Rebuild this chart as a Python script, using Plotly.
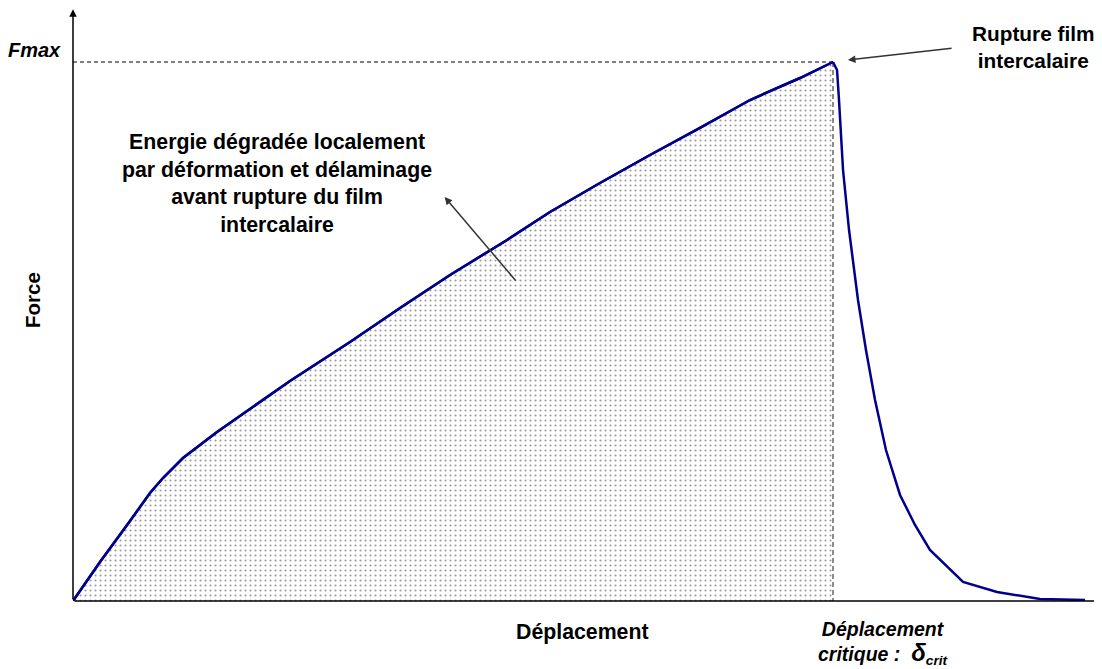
import plotly.graph_objects as go

# courbe force / deplacement (unites normalisees : delta_crit = 1, Fmax = 1)
x_charge = [0.0, 0.0355, 0.075, 0.1013, 0.1184, 0.1447, 0.1895, 0.2329, 0.2855,
            0.3645, 0.4303, 0.4961, 0.5711, 0.6276, 0.6934, 0.7592, 0.825,
            0.8908, 0.9566, 1.0]
y_charge = [0.0, 0.0724, 0.1484, 0.2004, 0.2282, 0.2653, 0.3135, 0.3562, 0.4082,
            0.4805, 0.5436, 0.6048, 0.6698, 0.7217, 0.7755, 0.8275, 0.8776,
            0.9295, 0.9703, 1.0]

x_rupture = [1.0, 1.0053, 1.0079, 1.0132, 1.0211, 1.0329, 1.0434, 1.0553, 1.0697,
             1.0882, 1.1079, 1.1276, 1.1711, 1.2158, 1.2724, 1.3316]
y_rupture = [1.0, 0.9852, 0.9295, 0.7996, 0.6883, 0.5584, 0.4657, 0.3729, 0.2801,
             0.1967, 0.141, 0.0946, 0.0353, 0.0167, 0.0037, 0.0019]

delta_crit = 1.0
f_max = 1.0

FONT = "Liberation Sans, Arial, sans-serif"
BLEU = "#00008B"

fig = go.Figure()

# zone pointillee = energie degradee
fig.add_trace(go.Scatter(
    x=x_charge, y=y_charge, mode="lines", fill="tozeroy",
    fillcolor="white",
    fillpattern=dict(shape=".", size=5, solidity=0.14, fgcolor="#333333", bgcolor="white"),
    line=dict(color=BLEU, width=2.5), hoverinfo="skip",
))

# lignes de repere en tirets
fig.add_trace(go.Scatter(x=[0, delta_crit], y=[f_max, f_max], mode="lines",
                         line=dict(color="black", width=1, dash="4px,3px")))
fig.add_trace(go.Scatter(x=[delta_crit, delta_crit], y=[f_max, 0], mode="lines",
                         line=dict(color="#666666", width=1.5, dash="5px,3px")))

# chute apres rupture
fig.add_trace(go.Scatter(x=x_rupture, y=y_rupture, mode="lines",
                         line=dict(color=BLEU, width=2.5)))

# redessiner la montee par-dessus les tirets
fig.add_trace(go.Scatter(x=x_charge, y=y_charge, mode="lines",
                         line=dict(color=BLEU, width=2.5)))

def fleche(x, y, ax, ay, color="#333333", width=1.5):
    fig.add_annotation(x=x, y=y, ax=ax, ay=ay, xref="x", yref="y", axref="x", ayref="y",
                       text="", showarrow=True, arrowhead=2, arrowsize=1,
                       arrowwidth=width, arrowcolor=color, standoff=0, startstandoff=0)

# axes avec fleches
fleche(1.354, 0, 0, 0, color="black", width=1.5)
fleche(0, 1.098, 0, 0, color="black", width=1.5)

# fleches d'annotation
fleche(1.0197, 1.0037, 1.158, 1.026)
fleche(0.489, 0.7495, 0.584, 0.592)

def texte(x, y, s, size=21.3, angle=0, xref="paper", yref="paper"):
    fig.add_annotation(x=x, y=y, xref=xref, yref=yref, text=s, showarrow=False,
                       textangle=angle, font=dict(family=FONT, size=size, color="black"),
                       align="center", xanchor="center", yanchor="middle")

texte(-0.0379, 0.929, "<b><i>Fmax</i></b>", size=20)
texte(-0.0389, 0.5076, "<b>Force</b>", size=20.5, angle=-90)
texte(0.4947, -0.0523, "<b>Déplacement</b>")
texte(0.7872, -0.0708, "<b><i>Déplacement<br>critique :  <span style='font-size:24px'>δ</span>"
      "<sub>crit</sub></i></b>", size=19.5)
texte(0.9325, 0.934, "<b>Rupture film<br>intercalaire</b>", size=20.8)
texte(0.2678, 0.7755, "<b>Energie dégradée localement<br>par déformation et délaminage<br>"
      "avant rupture du film<br>intercalaire</b>", xref="x", yref="y")

# la page ajoute une marge de 8 px : figure reduite d'autant
fig.update_layout(
    width=1094, height=661,
    margin=dict(l=65, r=0, t=0, b=68),
    plot_bgcolor="white", paper_bgcolor="white",
    showlegend=False,
    xaxis=dict(range=[0, 1029 / 760], visible=False, fixedrange=True),
    yaxis=dict(range=[0, 593 / 539], visible=False, fixedrange=True),
)

fig.write_html("out.html")
